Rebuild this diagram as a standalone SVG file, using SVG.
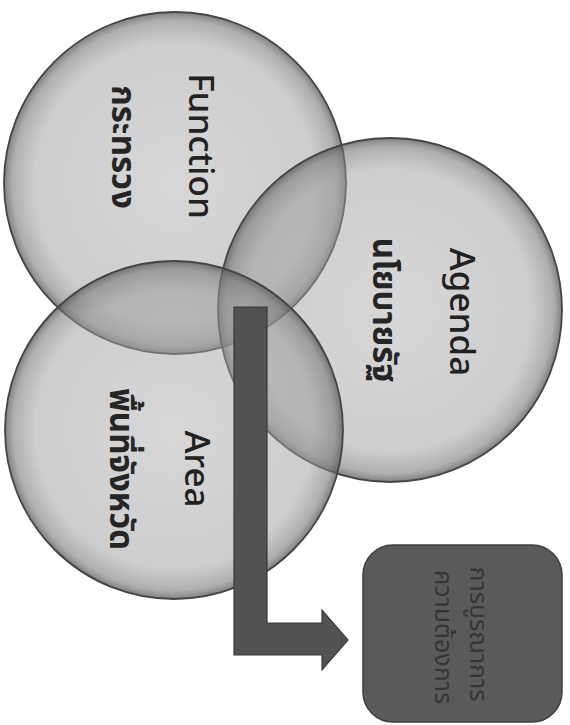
<svg xmlns="http://www.w3.org/2000/svg" width="570" height="725" viewBox="0 0 570 725">
  <style>
    .circle { fill: url(#ballGrad); stroke: #454545; stroke-width: 1.8; }
    .en { font-family: "Noto Sans", "Open Sans", sans-serif; font-size: 35px; font-weight: 500; fill: #222222; text-anchor: middle; }
    .th { font-family: "Noto Sans", "Noto Sans Thai", sans-serif; font-size: 33px; font-weight: bold; fill: #252525; text-anchor: middle; }
    .box { fill: #5a5a5a; stroke: #3f3f3f; stroke-width: 1.5; }
    .boxtxt { font-family: "Noto Sans", "Noto Sans Thai", sans-serif; font-size: 25px; fill: #2e2e2e; fill-opacity: 0.85; text-anchor: middle; }
    .arrow { fill: #525252; stroke: #3a3a3a; stroke-width: 1.2; stroke-linejoin: miter; }
  </style>
  <defs>
    <radialGradient id="ballGrad" cx="50%" cy="50%" r="50%">
      <stop offset="0%" stop-color="#a8a8a8" stop-opacity="0.46"/>
      <stop offset="82%" stop-color="#9c9c9c" stop-opacity="0.5"/>
      <stop offset="95%" stop-color="#7a7a7a" stop-opacity="0.6"/>
      <stop offset="100%" stop-color="#555555" stop-opacity="0.75"/>
    </radialGradient>
  </defs>
  <rect width="570" height="725" fill="#ffffff"/>

  <g id="node-function">
    <circle class="circle" cx="175" cy="183" r="171"/>
    <text class="en" transform="translate(189,146) rotate(90)">Function</text>
    <text class="th" transform="translate(112,147) rotate(90)">กระทรวง</text>
  </g>

  <g id="node-agenda">
    <circle class="circle" cx="390" cy="310" r="172"/>
    <text class="en" transform="translate(450,312) rotate(90)">Agenda</text>
    <text class="th" transform="translate(373,310) rotate(90)">นโยบายรัฐ</text>
  </g>

  <g id="node-area">
    <circle class="circle" cx="174" cy="430" r="169"/>
    <text class="en" transform="translate(185,469) rotate(90)">Area</text>
    <text class="th" transform="translate(110,469) rotate(90)">พื้นที่จังหวัด</text>
  </g>

  <g id="connectors">
    <path class="arrow" d="M234,307 L267,307 L267,623 L322,623 L322,610 L348,640 L322,670 L322,655 L234,655 Z"/>
  </g>

  <g id="node-result">
    <rect class="box" x="363" y="545" width="199" height="177" rx="30" ry="30"/>
    <text class="boxtxt" transform="translate(470,634) rotate(90)">การบูรณาการ</text>
    <text class="boxtxt" transform="translate(435,637) rotate(90)">ความต้องการ</text>
  </g>
</svg>
